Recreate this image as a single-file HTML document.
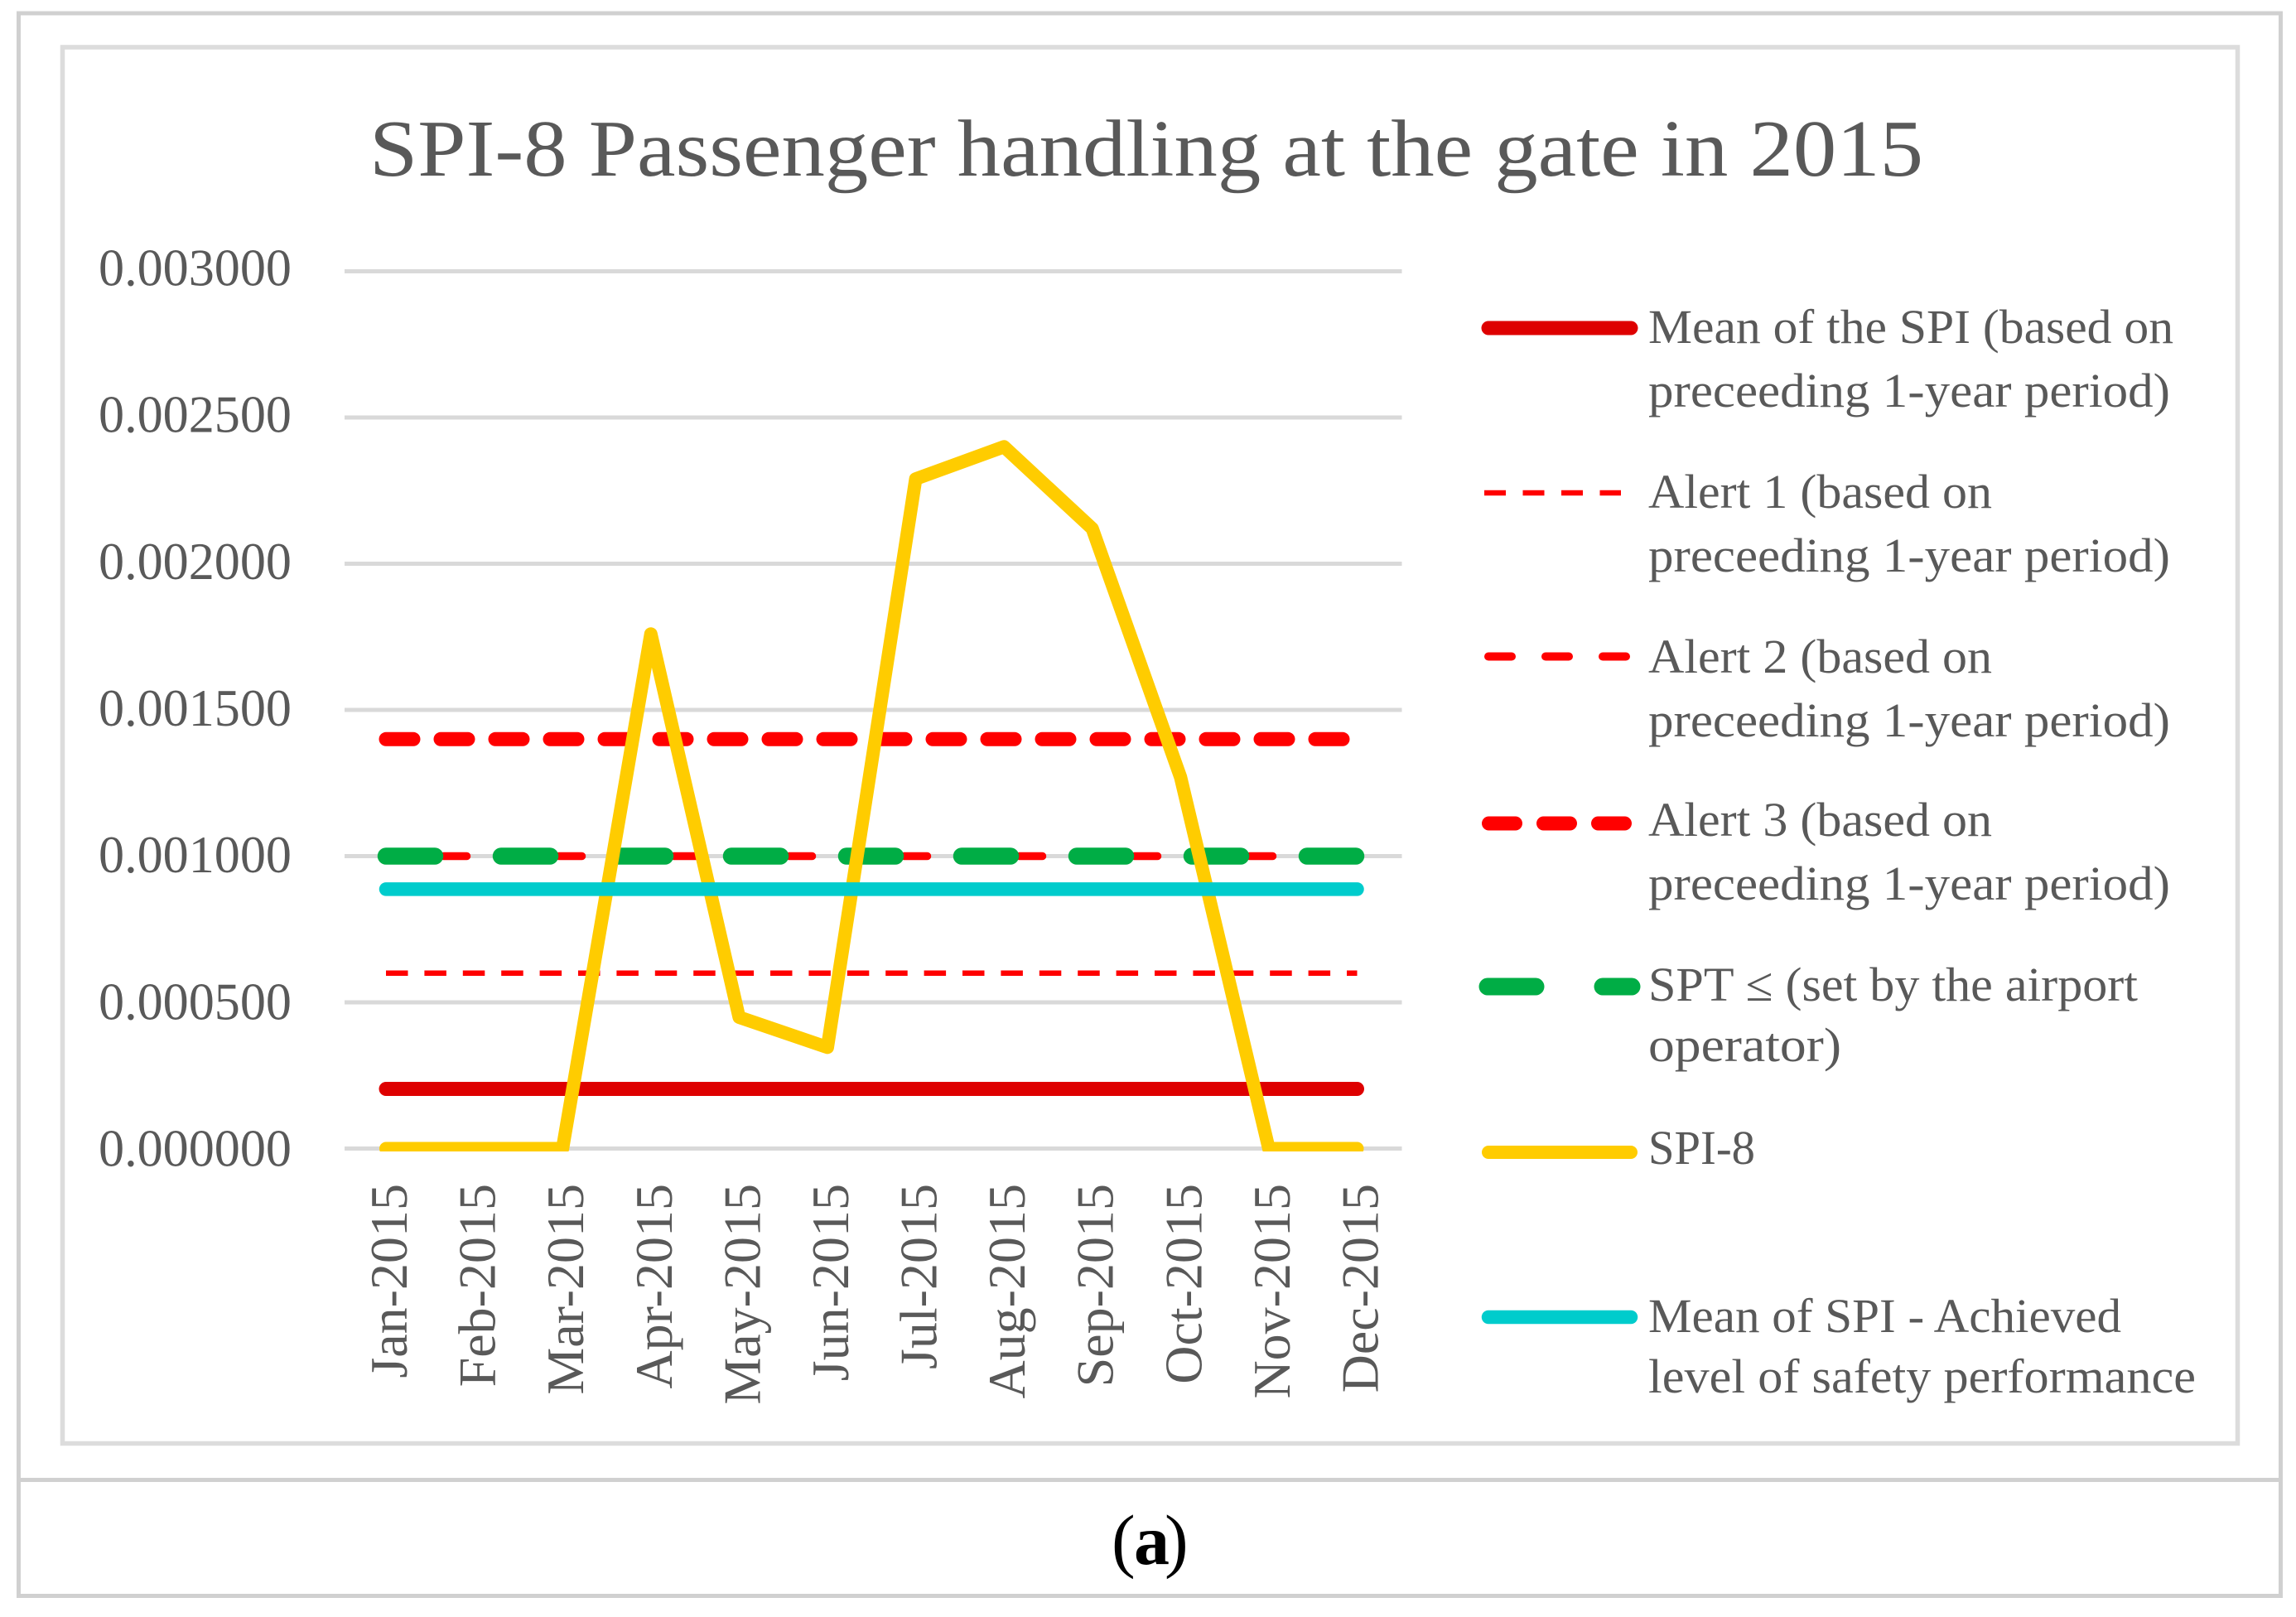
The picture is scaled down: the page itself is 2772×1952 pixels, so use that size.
<!DOCTYPE html>
<html lang="en">
<head>
<meta charset="utf-8">
<title>SPI-8 Passenger handling at the gate in 2015</title>
<style>
html,body{margin:0;padding:0;background:#fff;width:2772px;height:1952px;overflow:hidden}
svg{display:block}
text{font-family:"Liberation Serif",serif;fill:#595959}
.lg{font-size:58px}
</style>
</head>
<body>
<svg id="chart" xmlns="http://www.w3.org/2000/svg" width="2772" height="1952" viewBox="0 0 2772 1952">
  <defs><clipPath id="plot-clip"><rect x="400" y="300" width="1320" height="1090"/></clipPath></defs>
  <rect x="22.5" y="16" width="2731" height="1910.5" fill="#fff" stroke="#d0d0d0" stroke-width="5"/>
  <line x1="22" y1="1786.5" x2="2754" y2="1786.5" stroke="#d0d0d0" stroke-width="5"/>
  <rect x="75.5" y="57" width="2626" height="1685.5" fill="#fff" stroke="#dcdcdc" stroke-width="5.5"/>
  <text x="446" y="212" font-size="98" textLength="1876" lengthAdjust="spacingAndGlyphs">SPI-8 Passenger handling at the gate in 2015</text>
  <g id="grid"></g>
  <g id="yaxis"></g>
  <g id="xaxis"></g>
  <g id="series"></g>

  <g>
    <g>
      <line x1="1797" y1="396" x2="1969" y2="396" stroke="#de0000" stroke-width="17" stroke-linecap="round"/>
      <text class="lg" x="1990" y="414" textLength="634" lengthAdjust="spacingAndGlyphs">Mean of the SPI (based on</text>
      <text class="lg" x="1990" y="491" textLength="630" lengthAdjust="spacingAndGlyphs">preceeding 1-year period)</text>
    </g>
    <g>
      <line x1="1792" y1="595" x2="1957" y2="595" stroke="#ff0000" stroke-width="6.5" stroke-dasharray="26 20.5"/>
      <text class="lg" x="1990" y="613" textLength="415" lengthAdjust="spacingAndGlyphs">Alert 1 (based on</text>
      <text class="lg" x="1990" y="690" textLength="630" lengthAdjust="spacingAndGlyphs">preceeding 1-year period)</text>
    </g>
    <g>
      <line x1="1797" y1="792.5" x2="1965" y2="792.5" stroke="#ff0000" stroke-width="10" stroke-linecap="round" stroke-dasharray="28 41"/>
      <text class="lg" x="1990" y="812" textLength="415" lengthAdjust="spacingAndGlyphs">Alert 2 (based on</text>
      <text class="lg" x="1990" y="889" textLength="630" lengthAdjust="spacingAndGlyphs">preceeding 1-year period)</text>
    </g>
    <g>
      <line x1="1797.5" y1="994" x2="1963" y2="994" stroke="#ff0000" stroke-width="17" stroke-linecap="round" stroke-dasharray="32 34"/>
      <text class="lg" x="1990" y="1009" textLength="415" lengthAdjust="spacingAndGlyphs">Alert 3 (based on</text>
      <text class="lg" x="1990" y="1086" textLength="630" lengthAdjust="spacingAndGlyphs">preceeding 1-year period)</text>
    </g>
    <g>
      <line x1="1796" y1="1191" x2="1970" y2="1191" stroke="#00ad45" stroke-width="21" stroke-linecap="round" stroke-dasharray="58 81"/>
      <text class="lg" x="1990" y="1208" textLength="591" lengthAdjust="spacingAndGlyphs">SPT ≤ (set by the airport</text>
      <text class="lg" x="1990" y="1281" textLength="233" lengthAdjust="spacingAndGlyphs">operator)</text>
    </g>
    <g>
      <line x1="1797" y1="1391" x2="1969" y2="1391" stroke="#ffcc00" stroke-width="16" stroke-linecap="round"/>
      <text class="lg" x="1990" y="1405" textLength="129" lengthAdjust="spacingAndGlyphs">SPI-8</text>
    </g>
    <g>
      <line x1="1797" y1="1590" x2="1969" y2="1590" stroke="#00cccc" stroke-width="16.5" stroke-linecap="round"/>
      <text class="lg" x="1990" y="1608" textLength="571" lengthAdjust="spacingAndGlyphs">Mean of SPI - Achieved</text>
      <text class="lg" x="1990" y="1681" textLength="661" lengthAdjust="spacingAndGlyphs">level of safety performance</text>
    </g>
  </g>

  <text y="1888" font-size="86" style="fill:#000"><tspan x="1342">(</tspan><tspan x="1369" font-weight="bold">a</tspan><tspan x="1406">)</tspan></text>
</svg>
<script>
const categories = ['Jan-2015','Feb-2015','Mar-2015','Apr-2015','May-2015','Jun-2015','Jul-2015','Aug-2015','Sep-2015','Oct-2015','Nov-2015','Dec-2015'];
const yTickValues = [0, 0.0005, 0.001, 0.0015, 0.002, 0.0025, 0.003];
const yTickLabels = ['0.000000','0.000500','0.001000','0.001500','0.002000','0.002500','0.003000'];
const meanValues = [0.000204,0.000204,0.000204,0.000204,0.000204,0.000204,0.000204,0.000204,0.000204,0.000204,0.000204,0.000204];
const alert1Values = [0.0006,0.0006,0.0006,0.0006,0.0006,0.0006,0.0006,0.0006,0.0006,0.0006,0.0006,0.0006];
const alert2Values = [0.001,0.001,0.001,0.001,0.001,0.001,0.001,0.001,0.001,0.001,0.001,0.001];
const alert3Values = [0.0014,0.0014,0.0014,0.0014,0.0014,0.0014,0.0014,0.0014,0.0014,0.0014,0.0014,0.0014];
const sptValues = [0.001,0.001,0.001,0.001,0.001,0.001,0.001,0.001,0.001,0.001,0.001,0.001];
const spi8Values = [0,0,0,0.00176,0.000449,0.000346,0.00229,0.00240,0.00212,0.00127,0,0];
const achievedValues = [0.000887,0.000887,0.000887,0.000887,0.000887,0.000887,0.000887,0.000887,0.000887,0.000887,0.000887,0.000887];

const NS = 'http://www.w3.org/2000/svg';
function xPos(i){ return 466 + i * (1638.5 - 466) / (categories.length - 1); }
function yPos(v){ return 1386.5 - v * (1386.5 - 327.5) / 0.003; }
function make(tag, parent, attrs, text){
  const el = document.createElementNS(NS, tag);
  for (const k in attrs) el.setAttribute(k, attrs[k]);
  if (text !== undefined) el.textContent = text;
  parent.appendChild(el);
  return el;
}

const gridGroup = document.getElementById('grid');
const yGroup = document.getElementById('yaxis');
const xGroup = document.getElementById('xaxis');
const seriesGroup = document.getElementById('series');

yTickValues.forEach(function(v, i){
  const g = make('line', gridGroup, {x1:416, x2:1692.5, y1:yPos(v), y2:yPos(v), stroke:'#d9d9d9', 'stroke-width':5});
  
  
  const labelY = yPos(v) + 21 - (v / 0.003) * 4;
  const t = make('text', yGroup, {x:352, y:labelY, 'text-anchor':'end', 'font-size':63, textLength:233, lengthAdjust:'spacingAndGlyphs'}, yTickLabels[i]);
  
  
});

categories.forEach(function(c, i){
  const bx = xPos(i) + 25;
  const t = make('text', xGroup, {x:bx, y:1429, 'text-anchor':'end', 'font-size':64, transform:'rotate(-90 ' + bx + ' 1429)'}, c);
  
  
});

function drawSeries(values, name, style){
  const pts = values.map(function(v, i){ return xPos(i) + ',' + yPos(v); }).join(' ');
  const attrs = Object.assign({points:pts, fill:'none', 'stroke-linejoin':'round'}, style);
  const el = make('polyline', seriesGroup, attrs);
  
  
  return el;
}

drawSeries(meanValues, 'series-mean', {stroke:'#de0000', 'stroke-width':17, 'stroke-linecap':'round'});
drawSeries(alert1Values, 'series-alert-1', {stroke:'#ff0000', 'stroke-width':6.5, 'stroke-dasharray':'26.5 19.9'});
drawSeries(alert2Values, 'series-alert-2', {stroke:'#ff0000', 'stroke-width':9.5, 'stroke-linecap':'round', 'stroke-dasharray':'28 41.5'});
drawSeries(alert3Values, 'series-alert-3', {stroke:'#ff0000', 'stroke-width':17, 'stroke-linecap':'round', 'stroke-dasharray':'33 33'});
drawSeries(sptValues, 'series-spt', {stroke:'#00ad45', 'stroke-width':20.5, 'stroke-linecap':'round', 'stroke-dasharray':'59 80'});
drawSeries(spi8Values, 'series-spi-8', {stroke:'#ffcc00', 'stroke-width':16, 'stroke-linecap':'round', 'clip-path':'url(#plot-clip)'});
drawSeries(achievedValues, 'series-achieved', {stroke:'#00cccc', 'stroke-width':16.5, 'stroke-linecap':'round'});
</script>
</body>
</html>
